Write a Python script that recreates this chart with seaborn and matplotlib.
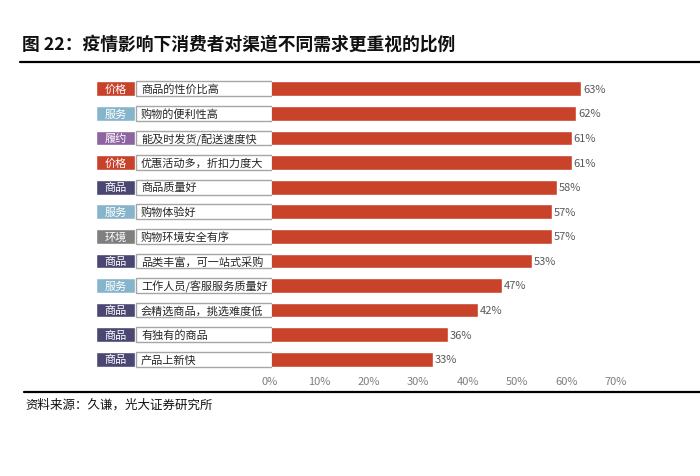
import matplotlib
matplotlib.use("Agg")
import matplotlib.pyplot as plt
import seaborn as sns
import pandas as pd

sns.set_style("white")
plt.rcParams["font.family"] = ["Noto Sans CJK SC", "DejaVu Sans"]

tags = ["价格", "服务", "履约", "价格", "商品", "服务", "环境", "商品", "服务", "商品", "商品", "商品"]
items = ["商品的性价比高", "购物的便利性高", "能及时发货/配送速度快", "优惠活动多，折扣力度大",
         "商品质量好", "购物体验好", "购物环境安全有序", "品类丰富，可一站式采购",
         "工作人员/客服服务质量好", "会精选商品，挑选难度低", "有独有的商品", "产品上新快"]
shares = [0.63, 0.62, 0.61, 0.61, 0.58, 0.57, 0.57, 0.53, 0.47, 0.42, 0.36, 0.33]
ticks = [0, 0.1, 0.2, 0.3, 0.4, 0.5, 0.6, 0.7]

tag_colors = {"价格": "#C8412A", "服务": "#86B5CB", "履约": "#8D64A0",
              "商品": "#4A4772", "环境": "#7F7F7F"}
bar_color = "#C9432A"

df = pd.DataFrame({"tag": tags, "item": items, "share": shares})

W, H = 700, 477
fig = plt.figure(figsize=(7, 4.77), dpi=100)

def px_axes(x0, y0, x1, y1):
    return fig.add_axes([x0 / W, 1 - y1 / H, (x1 - x0) / W, (y1 - y0) / H])

# main bar axes
ax = px_axes(270, 77.5, 616, 372.5)
sns.barplot(data=df, x="share", y="item", color=bar_color, width=0.6,
            orient="h", ax=ax, saturation=1)
ax.set_xlim(0, 0.7)
ax.set_ylim(len(items) - 0.5, -0.5)
ax.set_xticks(ticks)
ax.set_xticklabels([f"{int(round(t * 100))}%" for t in ticks], color="#7F7F7F", fontsize=8)
ax.tick_params(axis="x", length=0, pad=3)
ax.set_yticks([])
ax.set_xlabel("")
ax.set_ylabel("")
for s in ax.spines.values():
    s.set_visible(False)
for i, v in enumerate(shares):
    ax.text(v + 0.004, i, f"{int(round(v * 100))}%", va="center", ha="left",
            fontsize=8, color="#595959")

# left tag / label boxes
axl = px_axes(96, 77.5, 272, 372.5)
axl.set_xlim(0, 176)
axl.set_ylim(len(items) - 0.5, -0.5)
axl.axis("off")
ypos = list(range(len(items)))
axl.barh(ypos, [39] * len(items), left=0, height=0.6,
         color=[tag_colors[t] for t in tags])
axl.barh(ypos, [136] * len(items), left=40, height=0.6,
         color="white", edgecolor="#A6A6A6", linewidth=1.0)
for i, (t, it) in enumerate(zip(tags, items)):
    axl.text(19.5, i, t, ha="center", va="center", fontsize=8, color="white")
    axl.text(45, i, it, ha="left", va="center", fontsize=8, color="#262626")

# title, rules, source
fig.text(22 / W, 1 - 45 / H, "图 22：疫情影响下消费者对渠道不同需求更重视的比例",
         fontsize=12.8, fontweight="bold", va="center", ha="left", color="#111111")
fig.add_artist(plt.Line2D([20 / W, 1], [1 - 63 / H] * 2, color="black", lw=1.6))
fig.add_artist(plt.Line2D([24 / W, 1], [1 - 393 / H] * 2, color="black", lw=1.6))
fig.text(25 / W, 1 - 405 / H, "资料来源：久谦，光大证券研究所",
         fontsize=9, va="center", ha="left", color="#111111")

fig.savefig("out.png", dpi=100)
